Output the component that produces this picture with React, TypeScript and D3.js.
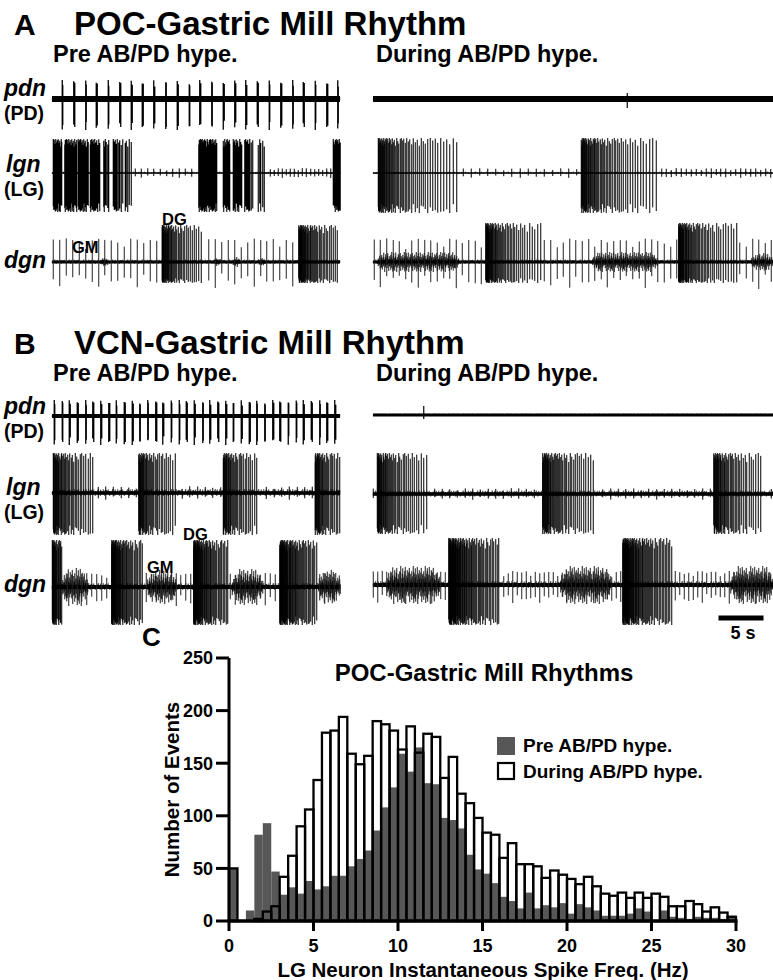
import React from "react";
import * as d3 from "d3";

const W = 773;
const H = 980;
const FONT = "'Liberation Sans', Arial, Helvetica, sans-serif";

// ---------------- Panel C : histogram data ----------------
const BIN_WIDTH = 0.5;
const BIN_LEFT = [
  0, 0.5, 1, 1.5, 2, 2.5, 3, 3.5, 4, 4.5, 5, 5.5, 6, 6.5, 7, 7.5, 8, 8.5, 9, 9.5,
  10, 10.5, 11, 11.5, 12, 12.5, 13, 13.5, 14, 14.5, 15, 15.5, 16, 16.5, 17, 17.5, 18, 18.5, 19, 19.5,
  20, 20.5, 21, 21.5, 22, 22.5, 23, 23.5, 24, 24.5, 25, 25.5, 26, 26.5, 27, 27.5, 28, 28.5, 29, 29.5,
];
const PRE_COUNTS = [
  50, 0, 10, 82, 93, 47, 25, 32, 26, 38, 30, 33, 43, 43, 52, 59, 67, 86, 108, 127,
  159, 142, 165, 131, 130, 98, 96, 88, 63, 49, 45, 36, 23, 19, 12, 27, 12, 15, 13, 17,
  7, 16, 13, 10, 5, 5, 5, 7, 12, 9, 0, 10, 4, 3, 2, 4, 3, 3, 2, 5,
];
const DURING_COUNTS = [
  50, 0, 0, 2, 9, 14, 42, 62, 90, 106, 134, 179, 181, 194, 159, 149, 157, 190, 187, 181,
  163, 185, 160, 178, 175, 136, 156, 121, 112, 98, 84, 82, 60, 74, 54, 54, 52, 41, 48, 44,
  40, 35, 42, 33, 26, 24, 27, 22, 27, 22, 26, 23, 14, 14, 19, 16, 9, 13, 8, 4,
];
const Y_TICKS = [0, 50, 100, 150, 200, 250];
const X_TICKS = [0, 5, 10, 15, 20, 25, 30];

// ---------------- Panels A / B : recording event times (s) ----------------
const AMP = [1, 0.93, 0.98, 0.86, 1, 0.9, 0.96, 0.82, 0.99, 0.88, 0.95, 0.78, 1, 0.91, 0.84, 0.97];
const AMP2 = [0.3, 0.72, 0.45, 1, 0.35, 0.6, 0.88, 0.4, 0.55, 0.95, 0.28, 0.5, 0.78, 0.38, 0.65, 0.9, 0.33, 0.58];

const PD_A_PRE = [1.1, 2.4, 3.7, 4.9, 6.2, 7.5, 8.8, 10.0, 11.3, 12.6, 13.9, 15.2, 16.4, 17.7, 19.0, 20.3, 21.5, 22.8, 24.1, 25.4, 26.7, 27.9, 29.2, 30.5, 31.7];
const PD_B_PRE = [0.2, 1.1, 1.9, 2.8, 3.7, 4.5, 5.4, 6.3, 7.1, 8.0, 8.9, 9.7, 10.6, 11.5, 12.3, 13.2, 14.1, 14.9, 15.8, 16.7, 17.5, 18.4, 19.3, 20.1, 21.0, 21.9, 22.7, 23.6, 24.5, 25.3, 26.2, 27.1, 27.9, 28.8, 29.7, 30.5, 31.4];

// bursts: [start, end, first ISI, last ISI]
const LGN_A_PRE = [[0.1, 1.1, 0.07, 0.08], [1.4, 2.8, 0.07, 0.09], [2.9, 4.0, 0.07, 0.1], [4.2, 5.3, 0.08, 0.12], [5.7, 6.4, 0.1, 0.16], [6.8, 7.9, 0.1, 0.18], [8.1, 8.8, 0.14, 0.22], [16.3, 18.3, 0.06, 0.09], [19.0, 19.8, 0.07, 0.1], [20.1, 21.1, 0.08, 0.12], [21.4, 22.3, 0.1, 0.16], [22.9, 23.7, 0.14, 0.22], [31.2, 32.0, 0.08, 0.1]];
const LGN_A_DUR = [[0.55, 9.3, 0.04, 0.4], [23.1, 31.6, 0.04, 0.4]];
const DGN_A_PRE = [[12.2, 16.7, 0.03, 0.3], [27.4, 31.8, 0.03, 0.25]];
const DGN_A_DUR = [[12.5, 18.6, 0.03, 0.35], [33.9, 40.4, 0.03, 0.35]];
const LGN_B_PRE = [[0.1, 4.6, 0.04, 0.28], [9.6, 13.7, 0.04, 0.28], [19.0, 22.9, 0.04, 0.28], [29.2, 32.0, 0.04, 0.22]];
const LGN_B_DUR = [[0.45, 6.0, 0.04, 0.32], [18.8, 24.7, 0.04, 0.32], [37.8, 43.3, 0.04, 0.32]];
const DGN_B_PRE = [[0, 1.1, 0.03, 0.1], [6.6, 10.1, 0.025, 0.18], [15.7, 19.6, 0.025, 0.18], [25.3, 29.4, 0.025, 0.18]];
const DGN_B_DUR = [[8.4, 14.1, 0.025, 0.2], [27.7, 33.2, 0.025, 0.2]];

// GM / background clusters: [start, end, relative size]
const GM_A_PRE = [[5.4, 6.2, 0.3], [17.9, 18.7, 0.3], [20.1, 20.9, 0.35], [22.9, 23.6, 0.3]];
const GM_A_DUR = [[0.5, 9.5, 0.5], [24.3, 31.6, 0.5], [42.0, 44.4, 0.45]];
const GM_B_PRE = [[1.1, 4.0, 1], [10.6, 13.8, 0.9], [20.0, 23.4, 0.95], [29.6, 32.0, 0.9]];
const GM_B_DUR = [[1.5, 7.4, 1], [20.8, 26.4, 1], [39.7, 44.4, 1]];

// regular unit spikes: [start, end, period]
const REG_A_LGN_PRE = [[9.2, 16.0, 0.7], [24.2, 31.0, 0.45]];
const REG_A_LGN_DUR = [[10.0, 22.8, 0.9], [32.0, 44.4, 0.55]];
const REG_A_DGN_PRE = [[0.1, 32.0, 0.72]];
const REG_A_DGN_DUR = [[0.1, 44.4, 0.7]];
const REG_B_LGN_PRE = [[0.0, 32.0, 0.85]];
const REG_B_LGN_DUR = [[0.0, 44.4, 0.85]];
const REG_B_DGN_PRE = [[0.0, 32.0, 0.55]];
const REG_B_DGN_DUR = [[0.0, 44.4, 0.5]];

const PD_A_DUR_SINGLE = [28.2];
const PD_B_DUR_SINGLE = [5.6];
const SCALE_BAR_S = 5;
const SCALE_BAR_START = 38.35;

// ---------------- helpers ----------------
const xL = d3.scaleLinear().domain([0, 32]).range([52, 340]);
const xR = d3.scaleLinear().domain([0, 44.4]).range([373, 773]);

type Spk = [number, number, number];

function inside(t: number, bursts: number[][]) {
  return bursts.some((b) => t >= b[0] - 0.15 && t <= b[1] + 0.15);
}

function burstSpikes(bursts: number[][]): Spk[] {
  const out: Spk[] = [];
  let k = 0;
  for (const [s, e, i0, i1] of bursts) {
    let t = s;
    while (t <= e) {
      out.push([t, AMP[k % AMP.length], AMP[(k * 7 + 3) % AMP.length]]);
      t += i0 + ((i1 - i0) * (t - s)) / Math.max(1e-6, e - s);
      k++;
    }
  }
  return out;
}

function regularSpikes(reg: number[][], bursts: number[][]): Spk[] {
  const out: Spk[] = [];
  let k = 0;
  for (const [s, e, p] of reg) {
    for (let t = s; t <= e; t += p) {
      k++;
      if (inside(t, bursts)) continue;
      out.push([
        t,
        AMP[(k * 5) % AMP.length] * (0.45 + 0.55 * AMP2[(k * 3) % AMP2.length]),
        AMP[(k * 11 + 2) % AMP.length] * (0.4 + 0.6 * AMP2[(k * 7 + 1) % AMP2.length]),
      ]);
    }
  }
  return out;
}

function clusterSpikes(cl: number[][]): Spk[] {
  const out: Spk[] = [];
  let k = 0;
  for (const [s, e, a] of cl) {
    for (let t = s; t <= e; t += 0.075) {
      const edge = Math.min(1, (t - s) / 0.7, (e - t) / 0.7);
      const env = 0.45 + 0.55 * Math.max(0, edge);
      out.push([t, a * env * AMP2[k % AMP2.length], a * env * AMP2[(k * 5 + 7) % AMP2.length]]);
      k++;
    }
  }
  return out;
}

function fuzzSpikes(domain: [number, number], step: number): Spk[] {
  const out: Spk[] = [];
  let k = 0;
  for (let t = domain[0]; t <= domain[1]; t += step) {
    out.push([t, AMP2[(k * 7) % AMP2.length], AMP2[(k * 3 + 4) % AMP2.length]]);
    k++;
  }
  return out;
}

function pathOf(x: d3.ScaleLinear<number, number>, cy: number, up: number, down: number, spikes: Spk[]) {
  const p = d3.path();
  for (const [t, u, dn] of spikes) {
    const xx = Math.round(x(t) * 2) / 2 + 0.25;
    p.moveTo(xx, cy - up * u);
    p.lineTo(xx, cy + down * dn);
  }
  return p.toString();
}

interface Layer { spikes: Spk[]; up: number; down: number; w?: number; color?: string }
interface TraceProps {
  x: d3.ScaleLinear<number, number>;
  cy: number;
  band: number;
  fuzz: number;
  fuzzStep?: number;
  layers: Layer[];
}

function Trace({ x, cy, band, fuzz, fuzzStep = 0.09, layers }: TraceProps) {
  const dom = x.domain() as [number, number];
  const fz = fuzzSpikes(dom, fuzzStep);
  return (
    <g>
      <line x1={x(dom[0])} x2={x(dom[1])} y1={cy} y2={cy} stroke="#000" strokeWidth={band} />
      <path d={pathOf(x, cy, fuzz, fuzz, fz)} stroke="#000" strokeWidth={0.8} fill="none" />
      {layers.map((l, i) => (
        <path key={i} d={pathOf(x, cy, l.up, l.down, l.spikes)} stroke={l.color || "#000"} strokeWidth={l.w || 1} fill="none" />
      ))}
    </g>
  );
}

function pdDoublets(times: number[]): Spk[] {
  const out: Spk[] = [];
  times.forEach((t, k) => {
    out.push([t, AMP[k % AMP.length], AMP[(k * 5 + 2) % AMP.length]]);
    out.push([t + 0.09, AMP[(k + 3) % AMP.length] * 0.85, AMP[(k * 3 + 1) % AMP.length] * 0.9]);
  });
  return out;
}

function singles(times: number[]): Spk[] {
  return times.map((t) => [t, 1, 1] as Spk);
}

const bold = { fontFamily: FONT, fontWeight: 700 as const, fill: "#000" };

function TraceLabels({ y }: { y: number[] }) {
  return (
    <g style={bold}>
      <text x={4} y={y[0]} fontSize={23} fontStyle="italic">pdn</text>
      <text x={4} y={y[1]} fontSize={19.5}>(PD)</text>
      <text x={6} y={y[2]} fontSize={23} fontStyle="italic">lgn</text>
      <text x={4} y={y[3]} fontSize={19.5}>(LG)</text>
      <text x={4} y={y[4]} fontSize={23} fontStyle="italic">dgn</text>
    </g>
  );
}

function Histogram() {
  const x = d3.scaleLinear().domain([0, 30]).range([229, 736]);
  const y = d3.scaleLinear().domain([0, 250]).range([921, 658]);
  const bw = x(BIN_WIDTH) - x(0);
  return (
    <g>
      {BIN_LEFT.map((b, i) =>
        DURING_COUNTS[i] > 0 ? (
          <rect key={"w" + i} x={x(b)} y={y(DURING_COUNTS[i])} width={bw} height={y(0) - y(DURING_COUNTS[i])} fill="#fff" />
        ) : null
      )}
      {BIN_LEFT.map((b, i) =>
        PRE_COUNTS[i] > 0 ? (
          <rect key={"g" + i} x={x(b)} y={y(PRE_COUNTS[i])} width={bw} height={y(0) - y(PRE_COUNTS[i])} fill="#575757" />
        ) : null
      )}
      {BIN_LEFT.map((b, i) =>
        DURING_COUNTS[i] > 0 ? (
          <rect key={"o" + i} x={x(b)} y={y(DURING_COUNTS[i])} width={bw} height={y(0) - y(DURING_COUNTS[i])} fill="none" stroke="#000" strokeWidth={2.3} />
        ) : null
      )}
      <line x1={x(0)} x2={x(0)} y1={y(250)} y2={y(0) + 1.5} stroke="#000" strokeWidth={3} />
      <line x1={x(0) - 1.5} x2={x(30) + 1.5} y1={y(0)} y2={y(0)} stroke="#000" strokeWidth={3.5} />
      {Y_TICKS.map((t) => (
        <g key={"yt" + t}>
          <line x1={x(0) - 13} x2={x(0)} y1={y(t)} y2={y(t)} stroke="#000" strokeWidth={3} />
          <text x={x(0) - 16} y={y(t)} dy="0.36em" textAnchor="end" fontSize={18} style={bold}>{t}</text>
        </g>
      ))}
      {X_TICKS.map((t) => (
        <g key={"xt" + t}>
          <line x1={x(t)} x2={x(t)} y1={y(0)} y2={y(0) + 10} stroke="#000" strokeWidth={3} />
          <text x={x(t)} y={y(0) + 31} textAnchor="middle" fontSize={18} style={bold}>{t}</text>
        </g>
      ))}
      <text x={484} y={681} textAnchor="middle" fontSize={24} style={bold}>POC-Gastric Mill Rhythms</text>
      <text transform={`translate(179,${(y(0) + y(250)) / 2}) rotate(-90)`} textAnchor="middle" fontSize={20.5} style={bold}>Number of Events</text>
      <text x={483} y={977} textAnchor="middle" fontSize={20.5} style={bold}>LG Neuron Instantaneous Spike Freq. (Hz)</text>
      <rect x={497} y={737} width={18} height={18} fill="#575757" />
      <rect x={498} y={763} width={16} height={16} fill="#fff" stroke="#000" strokeWidth={2.2} />
      <text x={523} y={752} fontSize={19} style={bold}>Pre AB/PD hype.</text>
      <text x={523} y={778} fontSize={19} style={bold}>During AB/PD hype.</text>
      <text x={142} y={646} fontSize={26} style={bold}>C</text>
    </g>
  );
}

export default function App() {
  const aPdnPre: Layer[] = [{ spikes: pdDoublets(PD_A_PRE), up: 19, down: 31, w: 1.3 }];
  const aPdnDur: Layer[] = [{ spikes: singles(PD_A_DUR_SINGLE), up: 6, down: 9, w: 1.2 }];
  const aLgnPre: Layer[] = [
    { spikes: burstSpikes(LGN_A_PRE), up: 34, down: 39, w: 1.1 },
    { spikes: regularSpikes(REG_A_LGN_PRE, LGN_A_PRE), up: 5, down: 5, w: 1 },
  ];
  const aLgnDur: Layer[] = [
    { spikes: burstSpikes(LGN_A_DUR), up: 35, down: 40, w: 1 },
    { spikes: regularSpikes(REG_A_LGN_DUR, LGN_A_DUR), up: 5, down: 5, w: 1 },
  ];
  const aDgnPre: Layer[] = [
    { spikes: clusterSpikes(GM_A_PRE), up: 20, down: 20, w: 0.9 },
    { spikes: regularSpikes(REG_A_DGN_PRE, DGN_A_PRE), up: 25, down: 26, w: 1, color: "#222" },
    { spikes: burstSpikes(DGN_A_PRE), up: 37, down: 21, w: 1 },
  ];
  const aDgnDur: Layer[] = [
    { spikes: clusterSpikes(GM_A_DUR), up: 20, down: 20, w: 0.9 },
    { spikes: regularSpikes(REG_A_DGN_DUR, DGN_A_DUR), up: 25, down: 27, w: 1, color: "#222" },
    { spikes: burstSpikes(DGN_A_DUR), up: 39, down: 21, w: 1 },
  ];
  const bPdnPre: Layer[] = [{ spikes: pdDoublets(PD_B_PRE), up: 16, down: 29, w: 1.3 }];
  const bPdnDur: Layer[] = [{ spikes: singles(PD_B_DUR_SINGLE), up: 9, down: 4, w: 1.2 }];
  const bLgnPre: Layer[] = [
    { spikes: burstSpikes(LGN_B_PRE), up: 40, down: 42, w: 1 },
    { spikes: regularSpikes(REG_B_LGN_PRE, LGN_B_PRE), up: 7, down: 7, w: 1 },
  ];
  const bLgnDur: Layer[] = [
    { spikes: burstSpikes(LGN_B_DUR), up: 41, down: 40, w: 1 },
    { spikes: regularSpikes(REG_B_LGN_DUR, LGN_B_DUR), up: 6, down: 6, w: 1 },
  ];
  const bDgnPre: Layer[] = [
    { spikes: clusterSpikes(GM_B_PRE), up: 19, down: 19, w: 0.9 },
    { spikes: regularSpikes(REG_B_DGN_PRE, DGN_B_PRE), up: 15, down: 19, w: 1, color: "#222" },
    { spikes: burstSpikes(DGN_B_PRE), up: 47, down: 38, w: 1 },
  ];
  const bDgnDur: Layer[] = [
    { spikes: clusterSpikes(GM_B_DUR), up: 19, down: 19, w: 0.9 },
    { spikes: regularSpikes(REG_B_DGN_DUR, DGN_B_DUR), up: 15, down: 19, w: 1, color: "#222" },
    { spikes: burstSpikes(DGN_B_DUR), up: 47, down: 40, w: 1 },
  ];

  return (
    <svg width={W} height={H} viewBox={`0 0 ${W} ${H}`} style={{ position: "absolute", left: 0, top: 0, background: "#fff" }}>
      <rect width={W} height={H} fill="#fff" />
      {/* ---------- Panel A ---------- */}
      <text x={14} y={35} fontSize={30} style={bold}>A</text>
      <text x={74} y={35} fontSize={33} style={bold}>POC-Gastric Mill Rhythm</text>
      <text x={53} y={62} fontSize={23.5} style={bold}>Pre AB/PD hype.</text>
      <text x={376} y={62} fontSize={23.5} style={bold}>During AB/PD hype.</text>
      <TraceLabels y={[96, 120, 172, 196, 268]} />
      <Trace x={xL} cy={99} band={6} fuzz={2.5} layers={aPdnPre} />
      <Trace x={xR} cy={99} band={6} fuzz={2} layers={aPdnDur} />
      <Trace x={xL} cy={173} band={1.6} fuzz={1.5} fuzzStep={0.2} layers={aLgnPre} />
      <Trace x={xR} cy={173} band={1.6} fuzz={1.5} fuzzStep={0.2} layers={aLgnDur} />
      <Trace x={xL} cy={262} band={3} fuzz={2.5} layers={aDgnPre} />
      <Trace x={xR} cy={262} band={3} fuzz={2.5} layers={aDgnDur} />
      <g style={bold}>
        <text x={72} y={253} fontSize={16.5}>GM</text>
        <text x={162} y={225} fontSize={16.5}>DG</text>
      </g>

      {/* ---------- Panel B ---------- */}
      <text x={14} y={354} fontSize={30} style={bold}>B</text>
      <text x={74} y={354} fontSize={33} style={bold}>VCN-Gastric Mill Rhythm</text>
      <text x={53} y={381} fontSize={23.5} style={bold}>Pre AB/PD hype.</text>
      <text x={376} y={381} fontSize={23.5} style={bold}>During AB/PD hype.</text>
      <TraceLabels y={[414, 438, 495, 519, 592]} />
      <Trace x={xL} cy={416} band={4} fuzz={2} layers={bPdnPre} />
      <Trace x={xR} cy={415} band={3} fuzz={1.5} layers={bPdnDur} />
      <Trace x={xL} cy={493} band={3.5} fuzz={4} layers={bLgnPre} />
      <Trace x={xR} cy={494} band={3.5} fuzz={3.5} layers={bLgnDur} />
      <Trace x={xL} cy={587} band={4} fuzz={4} layers={bDgnPre} />
      <Trace x={xR} cy={585} band={4} fuzz={4} layers={bDgnDur} />
      <g style={bold}>
        <text x={147} y={573} fontSize={16.5}>GM</text>
        <text x={183} y={540} fontSize={16.5}>DG</text>
      </g>
      <line x1={xR(SCALE_BAR_START)} x2={xR(SCALE_BAR_START + SCALE_BAR_S)} y1={618} y2={618} stroke="#000" strokeWidth={5} />
      <text x={(xR(SCALE_BAR_START) + xR(SCALE_BAR_START + SCALE_BAR_S)) / 2 + 2} y={639} textAnchor="middle" fontSize={18} style={bold}>5 s</text>

      {/* ---------- Panel C ---------- */}
      <Histogram />
    </svg>
  );
}
